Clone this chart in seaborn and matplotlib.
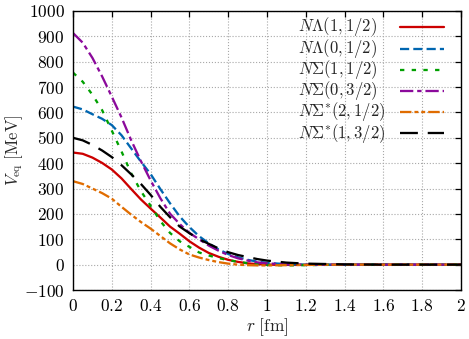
import numpy as np
import pandas as pd
import matplotlib
matplotlib.use('Agg')
import matplotlib.pyplot as plt
import seaborn as sns

# radial grid (fm) and potentials (MeV)
r = [0, .05, .1, .15, .2, .25, .3, .35, .4, .45, .5, .55, .6, .65, .7,
     .75, .8, .85, .9, .95, 1.0, 1.1, 1.2, 1.4, 1.6, 1.8, 2.0]

v_nl_1_12 = [442, 437, 422, 401, 375, 340, 298, 257, 221, 186, 150, 122, 92, 67, 46,
             31, 19, 11, 5, 2, 0, -1, -1, 0, 0, 0, 0]
v_nl_0_12 = [623, 612, 593, 575, 550, 510, 458, 406, 357, 298, 242, 190, 148, 112, 84,
             60, 42, 29, 19, 12, 7, 2, 0, 0, 0, 0, 0]
v_ns_1_12 = [757, 721, 670, 609, 528, 446, 360, 290, 232, 172, 125, 92, 70, 48, 36,
             26, 18, 11, 6, 2, -1, -3, -2, 0, 0, 0, 0]
v_ns_0_32 = [913, 875, 815, 742, 662, 580, 490, 408, 332, 262, 201, 160, 125, 100, 75,
             55, 38, 25, 16, 9, 5, 1, 0, 0, 0, 0, 0]
v_nss_2_12 = [329, 318, 300, 282, 260, 228, 197, 168, 142, 113, 84, 60, 40, 28, 18,
              10, 4, 0, -2, -3, -3, -2, -1, 0, 0, 0, 0]
v_nss_1_32 = [500, 490, 472, 450, 424, 392, 356, 318, 275, 228, 187, 150, 124, 100, 82,
              64, 49, 38, 30, 22, 16, 8, 4, 1, 0, 0, 0]

labels = [r'$N\Lambda(1,1/2)$', r'$N\Lambda(0,1/2)$', r'$N\Sigma(1,1/2)$',
          r'$N\Sigma(0,3/2)$', r'$N\Sigma^{*}(2,1/2)$', r'$N\Sigma^{*}(1,3/2)$']
series = [v_nl_1_12, v_nl_0_12, v_ns_1_12, v_ns_0_32, v_nss_2_12, v_nss_1_32]
colors = ['#cc0000', '#0066b0', '#00a000', '#8b0a9b', '#e06c00', '#000000']
dashes = [None, (4, 1.8), (1.9, 3.2), (5.8, 1.7, 1.9, 1.7),
          (5, 1.3, 1.7, 1.3, 1.7, 1.3), (7.8, 4.3)]

sns.set_style('white')
plt.rcParams['mathtext.fontset'] = 'cm'
plt.rcParams['font.family'] = ['DejaVu Serif']

fig = plt.figure(figsize=(4.69, 3.39), dpi=100)
ax = fig.add_axes([0.1557, 0.1445, 0.8273, 0.8231])

LW = 1.65
for vals, col, d in zip(series, colors, dashes):
    sns.lineplot(x=r, y=vals, ax=ax, color=col, linewidth=LW, legend=False)
    if d is not None:
        ax.lines[-1].set_dashes(d)

ax.set_xlim(0, 2)
ax.set_ylim(-100, 1000)
ax.set_xticks(np.round(np.arange(0, 2.01, 0.2), 1))
ax.set_yticks(np.arange(-100, 1001, 100))
ax.xaxis.set_major_formatter(plt.FuncFormatter(
    lambda v, p: '$%d$' % v if abs(v - round(v)) < 1e-6 else '$%g$' % v))
ax.yaxis.set_major_formatter(plt.FuncFormatter(lambda v, p: '$%d$' % v))
ax.tick_params(direction='in', top=True, right=True, length=4.5, width=0.9,
               labelsize=12.5, pad=6, colors='black')
ax.grid(True, ls=':', color='#a8a8a8', lw=0.8)
for s in ax.spines.values():
    s.set_color('black')
    s.set_linewidth(1.0)

ax.set_xlabel(r'$r\ [\mathrm{fm}]$', fontsize=12.5)
ax.set_ylabel(r'$V_{\rm eq}\ [\mathrm{MeV}]$', fontsize=12)
ax.xaxis.set_label_coords(0.5, -0.095)
ax.yaxis.set_label_coords(-0.124, 0.5)

# key: left-aligned labels with line samples on the right (gnuplot style)
row_y = [0.9427, 0.8638, 0.7885, 0.7133, 0.638, 0.5627]
for lab, col, d, yy in zip(labels, colors, dashes, row_y):
    ax.text(0.580, yy, lab, transform=ax.transAxes, fontsize=12,
            ha='left', va='center', zorder=5)
    ln, = ax.plot([0.8428, 0.9562], [yy, yy], transform=ax.transAxes,
                  color=col, lw=LW, zorder=5)
    if d is not None:
        ln.set_dashes(d)

fig.savefig('out.png', dpi=100)
